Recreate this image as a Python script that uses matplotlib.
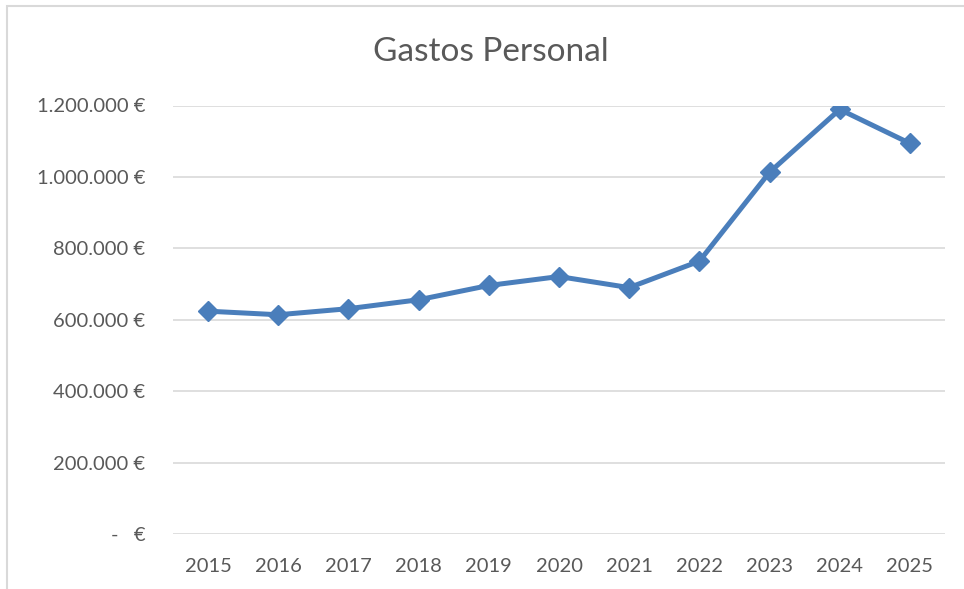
import matplotlib
matplotlib.use('Agg')
from matplotlib import pyplot as plt
from matplotlib.ticker import FuncFormatter
from matplotlib.patches import Rectangle

years = ['2015', '2016', '2017', '2018', '2019', '2020', '2021', '2022', '2023', '2024', '2025']
gastos = [624000, 614000, 631000, 656000, 696000, 721000, 690000, 764000, 1013000, 1189000, 1094000]
y_ticks = [0, 200000, 400000, 600000, 800000, 1000000, 1200000]

plt.rcParams['font.family'] = ['Lato', 'DejaVu Sans']
texto = '#595959'


def euros(v, pos):
    # formato contable de Excel: 1.200.000 €
    if v == 0:
        return '-   €'
    return '{:,.0f} €'.format(v).replace(',', '.')


def run_main():
    fig = plt.figure(figsize=(9.64, 5.89), dpi=100)
    # borde del area del grafico (solo se ve arriba y a la izquierda)
    top = 1 - 6 / 589
    fig.patches.append(Rectangle((7 / 964, -0.1), 2, top + 0.1, transform=fig.transFigure,
                                 fill=False, edgecolor='#D9D9D9', linewidth=1.5))
    ax = fig.add_axes([173 / 964, 55 / 589, 772 / 964, 428.5 / 589])

    x = list(range(len(years)))
    ax.plot(x, gastos, color='#4A7EBB', linewidth=3.6, marker='D', markersize=10.5,
            markerfacecolor='#4A7EBB', markeredgecolor='#4A7EBB')

    ax.set_xlim(-0.5, len(years) - 0.5)
    ax.set_ylim(0, 1200000)
    ax.set_yticks(y_ticks)
    ax.yaxis.set_major_formatter(FuncFormatter(euros))
    ax.set_xticks(x)
    ax.set_xticklabels(years)

    ax.grid(axis='y', color='#D9D9D9', linewidth=1.2)
    ax.set_axisbelow(True)
    for s in ax.spines.values():
        s.set_visible(False)
    ax.tick_params(axis='both', length=0, colors=texto, labelsize=14.5)
    ax.tick_params(axis='y', pad=20)
    ax.tick_params(axis='x', pad=17.5)

    fig.text(491 / 964, 1 - 52 / 589, 'Gastos Personal', ha='center', va='center',
             fontsize=24, color=texto)

    fig.savefig('out.png', dpi=100)


if __name__ == '__main__':
    run_main()
